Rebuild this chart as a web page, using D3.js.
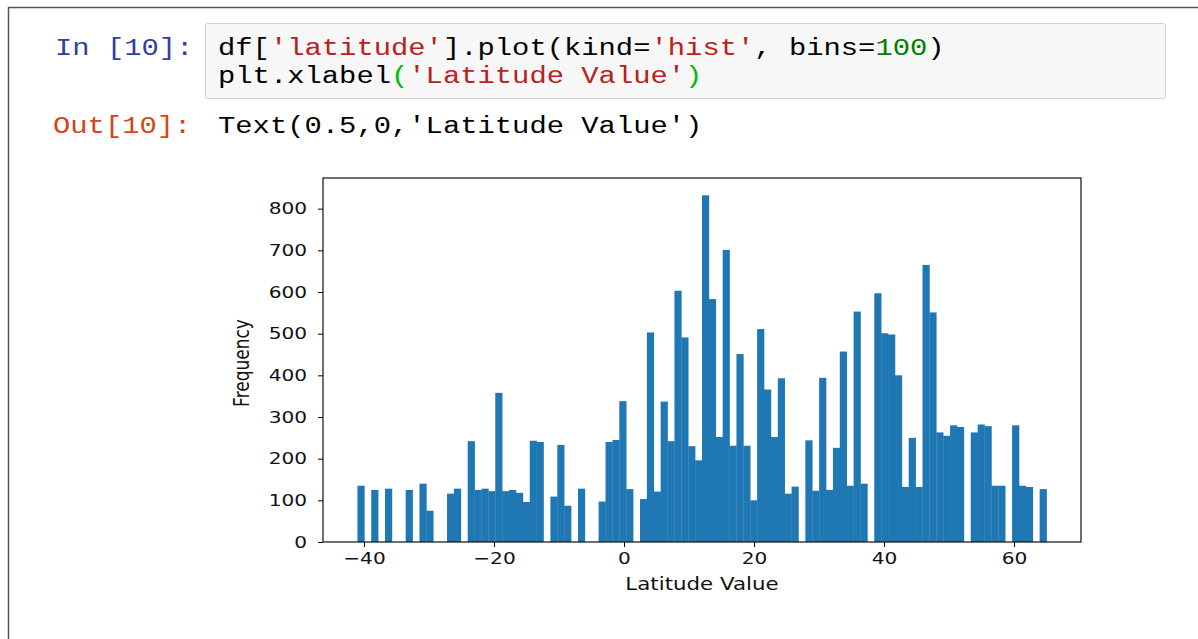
<!DOCTYPE html>
<html>
<head>
<meta charset="utf-8">
<script src="https://cdn.jsdelivr.net/npm/d3@7"></script>
<style>
  body { margin: 0; background: #fff; }
  svg { display: block; }
</style>
</head>
<body>
<svg id="page" width="1198" height="639"></svg>
<script>
// df['latitude'] histogram, 100 bins between latMin and latMax
const latMin = -41.0;
const latMax = 65.0;
const counts = [
  135, 0, 125, 0, 128, 0, 0, 125, 0, 140,
  75, 0, 0, 116, 128, 0, 242, 125, 128, 122,
  358, 122, 125, 118, 96, 243, 240, 0, 109, 233,
  87, 0, 128, 0, 0, 97, 240, 245, 338, 127,
  0, 103, 503, 121, 337, 242, 603, 491, 230, 196,
  832, 583, 252, 701, 231, 451, 231, 100, 511, 366,
  252, 393, 116, 133, 0, 244, 123, 394, 125, 226,
  457, 135, 553, 140, 0, 597, 501, 498, 400, 132,
  250, 132, 665, 551, 263, 255, 280, 276, 0, 263,
  282, 278, 135, 135, 0, 280, 135, 132, 0, 127
];
const xTicks = [-40, -20, 0, 20, 40, 60];
const yTicks = [0, 100, 200, 300, 400, 500, 600, 700, 800];

// notebook cell text: [text, colour] pieces
const inLabel = "In [10]:";
const outLabel = "Out[10]:";
const codeLines = [
  [["df[", "#000"], ["'latitude'", "#ba2121"], ["].plot(kind=", "#000"], ["'hist'", "#ba2121"], [", bins=", "#000"], ["100", "#008000"], [")", "#000"]],
  [["plt.xlabel", "#000"], ["(", "#00bb00"], ["'Latitude Value'", "#ba2121"], [")", "#00bb00"]]
];
const outText = "Text(0.5,0,'Latitude Value')";

const svg = d3.select("#page");
const mono = "'Liberation Mono', 'DejaVu Sans Mono', monospace";
const sans = "'DejaVu Sans', sans-serif";
const charW = 17.3;
const stretch = 1.22;   // screenshot text is wider than it is tall

svg.append("rect").attr("width", 1198).attr("height", 639).attr("fill", "#fff");

// page frame
svg.append("line").attr("x1", 8).attr("x2", 1198).attr("y1", 7.5).attr("y2", 7.5)
  .attr("stroke", "#555").attr("stroke-width", 1.5);
svg.append("line").attr("x1", 8.5).attr("x2", 8.5).attr("y1", 7).attr("y2", 639)
  .attr("stroke", "#555").attr("stroke-width", 1.5);

// input box
svg.append("rect").attr("x", 205.5).attr("y", 23.5).attr("width", 960).attr("height", 75)
  .attr("rx", 2).attr("fill", "#f7f7f7").attr("stroke", "#cfcfcf");

function monoText(str, x, y, color) {
  svg.append("text")
    .attr("x", x).attr("y", y)
    .attr("font-family", mono).attr("font-size", 23)
    .attr("fill", color)
    .attr("textLength", str.length * charW)
    .attr("lengthAdjust", "spacingAndGlyphs")
    .style("white-space", "pre")
    .text(str);
}

monoText(inLabel, 55, 55, "#303f9f");
codeLines.forEach(function(line, li) {
  let cx = 218;
  line.forEach(function(seg) {
    monoText(seg[0], cx, 55 + li * 28, seg[1]);
    cx += seg[0].length * charW;
  });
});
monoText(outLabel, 53, 133, "#d84315");
monoText(outText, 218, 133, "#000");

// chart
const plot = {left: 323, right: 1081, top: 178, bottom: 542};
const span = latMax - latMin;
const binW = span / counts.length;

const x = d3.scaleLinear()
  .domain([latMin - 0.05 * span, latMax + 0.05 * span])
  .range([plot.left, plot.right]);
const y = d3.scaleLinear()
  .domain([0, d3.max(counts) * 1.05])
  .range([plot.bottom, plot.top]);

const bins = counts.map(function(c, i) {
  return {x0: latMin + i * binW, x1: latMin + (i + 1) * binW, n: c};
});

svg.append("g")
  .selectAll("rect")
  .data(bins.filter(d => d.n > 0))
  .enter().append("rect")
    .attr("x", d => x(d.x0))
    .attr("width", d => x(d.x1) - x(d.x0) + 0.3)
    .attr("y", d => y(d.n))
    .attr("height", d => y(0) - y(d.n))
    .attr("fill", "#1f77b4");

const xAxis = svg.append("g")
  .attr("transform", "translate(0," + plot.bottom + ")")
  .call(d3.axisBottom(x).tickValues(xTicks).tickSize(5).tickPadding(5));
const yAxis = svg.append("g")
  .attr("transform", "translate(" + plot.left + ",0)")
  .call(d3.axisLeft(y).tickValues(yTicks).tickSize(5).tickPadding(8));

[xAxis, yAxis].forEach(function(ax) {
  ax.select(".domain").remove();
  ax.selectAll(".tick line").attr("stroke", "#000").attr("stroke-width", 1);
  ax.selectAll(".tick text")
    .attr("font-family", sans).attr("font-size", 16.5).attr("fill", "#111")
    .attr("transform", "scale(" + stretch + ",1)");
});

// spines
svg.append("rect")
  .attr("x", plot.left).attr("y", plot.top)
  .attr("width", plot.right - plot.left).attr("height", plot.bottom - plot.top)
  .attr("fill", "none").attr("stroke", "#111").attr("stroke-width", 1.2);

svg.append("text")
  .attr("transform", "translate(" + ((plot.left + plot.right) / 2) + ",590) scale(" + stretch + ",1)")
  .attr("text-anchor", "middle")
  .attr("font-family", sans).attr("font-size", 17.5).attr("fill", "#111")
  .text("Latitude Value");

svg.append("text")
  .attr("transform", "translate(249,363) scale(" + stretch + ",1) rotate(-90)")
  .attr("text-anchor", "middle")
  .attr("font-family", sans).attr("font-size", 17).attr("fill", "#111")
  .text("Frequency");
</script>
</body>
</html>
